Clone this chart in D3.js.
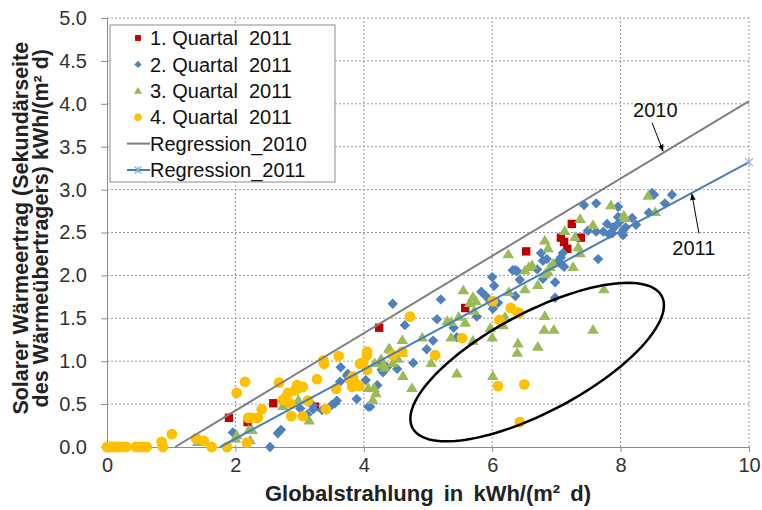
<!DOCTYPE html>
<html>
<head>
<meta charset="utf-8">
<script src="https://cdn.jsdelivr.net/npm/d3@7/dist/d3.min.js"></script>
<style>
    body { margin: 0; background: #fff; }
    text { font-family: "Liberation Sans", Arial, sans-serif; }
</style>
</head>
<body>
<div id="chart"></div>
<script>
// --- data ---
var q1 = [[1.90,0.34],[2.19,0.29],[2.59,0.51],[3.24,0.47],[4.24,1.39],[5.58,1.62],[6.53,2.28],
    [7.07,2.44],[7.12,2.39],[7.17,2.31],[7.24,2.60],[7.38,2.44]];

var q2 = [[1.96,0.17],[2.54,0.00],[2.66,0.16],[2.71,0.20],[3.01,0.45],[3.12,0.38],[3.21,0.48],[3.21,0.44],
    [3.35,0.43],[3.50,0.49],[3.55,0.51],[3.58,0.54],[3.63,0.76],[3.64,0.93],[3.74,0.83],[3.75,0.85],
    [3.89,0.56],[4.03,0.78],[4.07,0.47],[4.10,0.47],[4.21,0.72],[4.28,0.98],[4.28,0.90],[4.30,0.87],
    [4.36,0.93],[4.45,1.67],[4.52,0.91],[4.64,1.42],[4.77,0.98],[4.98,1.14],[5.08,1.24],[5.14,1.49],
    [5.20,1.72],[5.40,1.39],[5.45,1.28],[5.76,1.52],[5.83,1.81],[5.90,1.76],[5.97,1.69],[6.00,1.98],
    [6.03,1.88],[6.01,1.61],[6.09,1.68],[6.32,2.06],[6.36,2.06],[6.39,2.05],[6.43,1.95],[6.36,1.76],
    [6.70,2.07],[6.76,2.26],[6.79,1.96],[6.82,2.00],[6.79,2.17],[6.85,2.19],[6.98,1.74],[6.98,1.92],
    [7.02,2.16],[7.07,2.21],[7.09,2.12],[7.10,2.26],[7.12,2.10],[7.43,2.82],[7.49,2.52],[7.62,2.84],
    [7.62,2.51],[7.65,2.19],[7.73,2.51],[7.79,2.60],[7.82,2.48],[7.87,2.49],[7.88,2.56],[7.90,2.56],
    [7.96,2.80],[7.96,2.68],[7.98,2.62],[8.02,2.49],[8.04,2.53],[8.04,2.47],[8.08,2.56],[8.18,2.67],
    [8.24,2.59],[8.44,2.73],[8.49,2.96],[8.52,2.94],[8.69,2.84],[8.80,2.94]];

var q3 = [[1.41,0.06],[2.00,0.10],[2.02,0.14],[2.21,0.20],[2.23,0.08],[2.26,0.20],[2.74,0.48],[2.98,0.55],
    [3.15,0.31],[4.07,0.69],[4.16,0.69],[4.19,0.63],[4.14,0.55],[4.17,0.98],[4.27,1.03],[4.30,0.96],
    [4.41,1.14],[4.33,0.93],[4.39,1.15],[4.45,0.98],[4.53,1.03],[4.60,1.25],[4.60,1.10],[4.61,0.83],
    [4.75,0.69],[4.91,1.28],[5.05,0.98],[5.30,1.47],[5.36,1.46],[5.36,1.28],[5.45,0.86],[5.48,1.52],
    [5.55,1.83],[5.58,1.45],[5.65,1.68],[5.70,1.75],[5.72,1.59],[5.75,1.70],[5.70,1.24],[5.97,1.39],
    [6.00,1.28],[6.01,0.83],[6.17,1.42],[6.20,1.52],[6.25,2.25],[6.26,1.81],[6.39,1.10],[6.40,1.21],
    [6.51,1.84],[6.51,2.06],[6.57,2.10],[6.62,2.12],[6.71,1.89],[6.71,1.17],[6.81,1.37],[6.82,1.53],
    [6.82,2.02],[6.82,2.41],[6.87,2.04],[6.87,2.32],[6.90,2.10],[6.95,2.14],[6.96,1.37],[7.13,2.52],
    [7.26,2.10],[7.29,2.45],[7.34,2.33],[7.37,2.26],[7.37,2.66],[7.57,2.59],[7.57,1.37],[7.74,1.84],
    [7.85,2.82],[8.05,2.70],[8.07,2.67],[8.43,2.93],[8.54,2.74]];

var q4 = [[0.00,0],[0.04,0],[0.08,0],[0.12,0],[0.16,0],[0.20,0],[0.25,0],[0.30,0],[0.45,0],[0.50,0],
    [0.56,0],[0.62,0],[0.85,0.06],[0.87,0],[1.01,0.15],[1.39,0.10],[1.51,0.07],[1.63,0.00],[1.87,0.00],
    [2.02,0.63],[2.15,0.76],[2.20,0.34],[2.18,0.05],[2.26,0.34],[2.35,0.34],[2.41,0.44],[2.68,0.75],
    [2.74,0.55],[2.79,0.58],[2.82,0.63],[2.85,0.51],[2.87,0.36],[2.93,0.66],[2.96,0.72],[2.99,0.69],
    [3.05,0.70],[3.05,0.36],[3.13,0.54],[3.27,0.79],[3.37,1.01],[3.38,0.97],[3.41,0.44],[3.57,0.68],
    [3.61,1.06],[3.79,0.78],[3.82,0.70],[3.83,0.82],[3.86,0.75],[3.93,0.71],[3.94,0.97],[3.99,0.98],
    [4.05,1.11],[4.05,1.07],[4.05,0.90],[4.45,1.07],[4.60,1.11],[4.72,1.52],[5.11,1.07],[5.53,1.27],
    [6.01,1.70],[6.11,1.48],[6.09,0.71],[6.29,1.62],[6.39,1.57],[6.42,1.56],[6.50,0.73],[6.43,0.29]];

var reg2010 = [[1.06,0],[10,4.03]];
var reg2011 = [[1.76,0],[10,3.32]];

var xTicks = [0, 2, 4, 6, 8, 10];
var yTicks = [0, 0.5, 1, 1.5, 2, 2.5, 3, 3.5, 4, 4.5, 5];

var legendLabels = ['1. Quartal  2011', '2. Quartal  2011', '3. Quartal  2011', '4. Quartal  2011',
    'Regression_2010', 'Regression_2011'];

// annotation: ellipse centre and two conjugate half-axes (data units)
var ellipseCentre = [6.70, 0.99];
var ellipseU = [1.94, 0.77];
var ellipseV = [0.37, -0.51];

var noteLabels = ['2010', '2011'];
var noteText = [[8.54, 3.85], [9.14, 2.24]];
var noteFrom = [[8.49, 3.78], [9.22, 2.49]];
var noteTo = [[8.66, 3.45], [9.11, 2.95]];

// --- chart ---
var width = 762;
var height = 510;

var margin = {
    top: 18,
    bottom: 63,
    left: 107,
    right: 13
};

var colours = {
    q1: '#C00000',
    q2: '#4F81BD',
    q3: '#9BBB59',
    q4: '#FFC000',
    r2010: '#7F7F7F',
    r2011: '#4A7EBB'
};

var symbols = {
    square: 'M-4.2,-4.2 L4.2,-4.2 L4.2,4.2 L-4.2,4.2 Z',
    diamond: 'M0,-5.2 L5.2,0 L0,5.2 L-5.2,0 Z',
    triangle: 'M0,-5.5 L5.8,4.2 L-5.8,4.2 Z'
};

var svg = d3.select('#chart')
    .append('svg')
    .attr('width', width)
    .attr('height', height);

var defs = svg.append('defs');
defs.append('marker')
    .attr('id', 'arrow')
    .attr('viewBox', '0 0 10 10')
    .attr('refX', 9)
    .attr('refY', 5)
    .attr('markerWidth', 7)
    .attr('markerHeight', 7)
    .attr('orient', 'auto')
    .append('path')
    .attr('d', 'M0,1 L10,5 L0,9 Z')
    .attr('fill', '#000');

var xScale = d3.scaleLinear()
    .domain([0, 10])
    .range([margin.left, width - margin.right]);

var yScale = d3.scaleLinear()
    .domain([0, 5])
    .range([height - margin.bottom, margin.top]);

// grid
svg.append('g')
    .attr('class', 'grid')
    .selectAll('line')
    .data(yTicks.filter(function(d) { return d > 0; }))
    .enter()
    .append('line')
    .attr('x1', xScale(0))
    .attr('x2', xScale(10))
    .attr('y1', function(d) { return yScale(d); })
    .attr('y2', function(d) { return yScale(d); })
    .attr('stroke', '#9a9a9a')
    .attr('stroke-width', 1)
    .attr('stroke-dasharray', '2,2');

svg.append('g')
    .attr('class', 'grid')
    .selectAll('line')
    .data(xTicks.filter(function(d) { return d > 0; }))
    .enter()
    .append('line')
    .attr('x1', function(d) { return xScale(d); })
    .attr('x2', function(d) { return xScale(d); })
    .attr('y1', yScale(0))
    .attr('y2', yScale(5))
    .attr('stroke', '#9a9a9a')
    .attr('stroke-width', 1)
    .attr('stroke-dasharray', '2,2');

// axes
var xAxis = d3.axisBottom(xScale)
    .tickValues(xTicks)
    .tickSize(5)
    .tickPadding(6)
    .tickFormat(d3.format('d'));

var yAxis = d3.axisLeft(yScale)
    .tickValues(yTicks)
    .tickSize(6)
    .tickPadding(14)
    .tickFormat(d3.format('.1f'));

var gx = svg.append('g')
    .attr('transform', 'translate(0,' + yScale(0) + ')')
    .call(xAxis);

var gy = svg.append('g')
    .attr('transform', 'translate(' + xScale(0) + ',0)')
    .call(yAxis);

[gx, gy].forEach(function(g) {
    g.select('.domain').attr('stroke', '#8c8c8c');
    g.selectAll('.tick line').attr('stroke', '#8c8c8c');
    g.selectAll('.tick text')
        .attr('fill', '#333')
        .attr('font-size', '20px')
        .attr('font-family', '"Liberation Sans", Arial, sans-serif');
});

// axis titles
svg.append('text')
    .attr('x', (xScale(0) + xScale(10)) / 2)
    .attr('y', 501)
    .attr('text-anchor', 'middle')
    .attr('font-size', '22px')
    .attr('font-weight', 'bold')
    .attr('word-spacing', '4px')
    .attr('fill', '#222')
    .text('Globalstrahlung in kWh/(m² d)');

var ytitle = svg.append('text')
    .attr('transform', 'translate(28,' + yScale(2.55) + ') rotate(-90)')
    .attr('text-anchor', 'middle')
    .attr('font-size', '21.5px')
    .attr('font-weight', 'bold')
    .attr('fill', '#222');
ytitle.append('tspan')
    .attr('x', 0)
    .attr('y', 0)
    .text('Solarer Wärmeertrag (Sekundärseite');
ytitle.append('tspan')
    .attr('x', 0)
    .attr('y', 20)
    .text('des Wärmeübertragers) kWh/(m² d)');

// scatter series
var series = [
    {data: q1, shape: symbols.square, fill: colours.q1},
    {data: q2, shape: symbols.diamond, fill: colours.q2},
    {data: q3, shape: symbols.triangle, fill: colours.q3}
];

series.forEach(function(s, i) {
    svg.append('g')
        .attr('class', 'series_' + i)
        .selectAll('path')
        .data(s.data)
        .enter()
        .append('path')
        .attr('transform', function(d) {
            return 'translate(' + xScale(d[0]) + ',' + yScale(d[1]) + ')';
        })
        .attr('d', s.shape)
        .attr('fill', s.fill);
});

svg.append('g')
    .attr('class', 'series_3')
    .selectAll('circle')
    .data(q4)
    .enter()
    .append('circle')
    .attr('cx', function(d) { return xScale(d[0]); })
    .attr('cy', function(d) { return yScale(d[1]); })
    .attr('r', 5.4)
    .attr('fill', colours.q4);

// regression lines
var line = d3.line()
    .x(function(d) { return xScale(d[0]); })
    .y(function(d) { return yScale(d[1]); });

svg.append('path')
    .datum(reg2010)
    .attr('d', line)
    .attr('fill', 'none')
    .attr('stroke', colours.r2010)
    .attr('stroke-width', 2);

svg.append('path')
    .datum(reg2011)
    .attr('d', line)
    .attr('fill', 'none')
    .attr('stroke', colours.r2011)
    .attr('stroke-width', 2);

function star(g, cx, cy, r) {
    var p = 'M' + (cx - r) + ',' + (cy - r) + 'L' + (cx + r) + ',' + (cy + r) +
        'M' + (cx - r) + ',' + (cy + r) + 'L' + (cx + r) + ',' + (cy - r) +
        'M' + cx + ',' + (cy - r) + 'L' + cx + ',' + (cy + r);
    g.append('path')
        .attr('d', p)
        .attr('stroke', '#8DB4E2')
        .attr('stroke-width', 1.2)
        .attr('fill', 'none');
}

star(svg, xScale(reg2011[1][0]), yScale(reg2011[1][1]), 4);

// ellipse annotation
var angles = d3.range(0, 2 * Math.PI + 0.01, Math.PI / 60);
var ellipsePts = angles.map(function(t) {
    return [ellipseCentre[0] + ellipseU[0] * Math.cos(t) + ellipseV[0] * Math.sin(t),
        ellipseCentre[1] + ellipseU[1] * Math.cos(t) + ellipseV[1] * Math.sin(t)];
});

svg.append('path')
    .datum(ellipsePts)
    .attr('d', line.curve(d3.curveLinearClosed))
    .attr('fill', 'none')
    .attr('stroke', '#000')
    .attr('stroke-width', 2.5);

line.curve(d3.curveLinear);

// year labels with arrows
noteLabels.forEach(function(label, i) {
    svg.append('line')
        .attr('x1', xScale(noteFrom[i][0]))
        .attr('y1', yScale(noteFrom[i][1]))
        .attr('x2', xScale(noteTo[i][0]))
        .attr('y2', yScale(noteTo[i][1]))
        .attr('stroke', '#000')
        .attr('stroke-width', 1)
        .attr('marker-end', 'url(#arrow)');
    svg.append('text')
        .attr('x', xScale(noteText[i][0]))
        .attr('y', yScale(noteText[i][1]))
        .attr('text-anchor', 'middle')
        .attr('font-size', '20px')
        .attr('fill', '#111')
        .text(label);
});

// legend
var legend = svg.append('g')
    .attr('class', 'legend')
    .attr('transform', 'translate(110,25)');

legend.append('rect')
    .attr('width', 225)
    .attr('height', 157)
    .attr('fill', '#fff')
    .attr('stroke', '#8c8c8c')
    .attr('stroke-width', 1);

legendLabels.forEach(function(label, i) {
    var row = legend.append('g')
        .attr('transform', 'translate(0,' + (13 + i * 26.4) + ')');
    if (i < 3) {
        row.append('path')
            .attr('transform', 'translate(28,0) scale(0.7)')
            .attr('d', series[i].shape)
            .attr('fill', series[i].fill);
    } else if (i === 3) {
        row.append('circle')
            .attr('cx', 28)
            .attr('cy', 0)
            .attr('r', 3.8)
            .attr('fill', colours.q4);
    } else {
        row.append('line')
            .attr('x1', 17)
            .attr('x2', 40)
            .attr('stroke', i === 4 ? colours.r2010 : colours.r2011)
            .attr('stroke-width', 2);
        if (i === 5) {
            star(row, 28, 0, 3.5);
        }
    }
    row.append('text')
        .attr('x', 40)
        .attr('dy', '0.36em')
        .attr('font-size', '20px')
        .attr('fill', '#111')
        .attr('xml:space', 'preserve')
        .style('white-space', 'pre')
        .text(label);
});
</script>
</body>
</html>
